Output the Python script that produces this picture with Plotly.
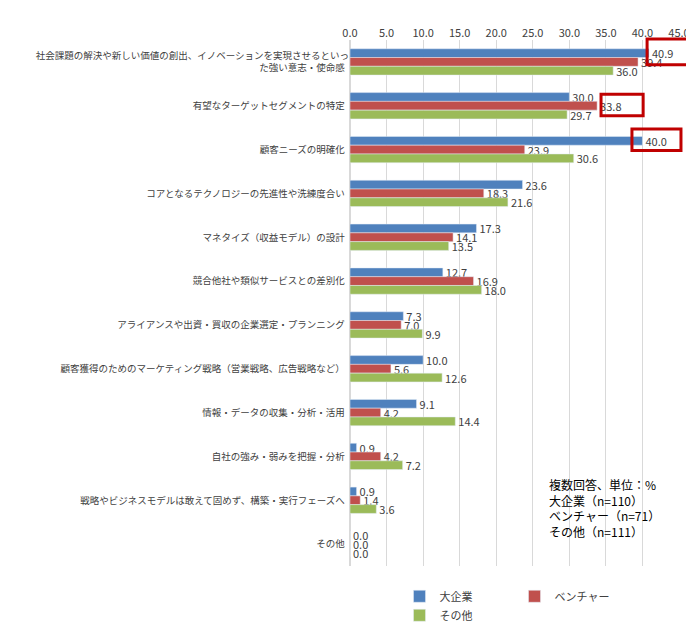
import plotly.graph_objects as go

categories = [
    "社会課題の解決や新しい価値の創出、イノベーションを実現させるといっ<br>た強い意志・使命感",
    "有望なターゲットセグメントの特定",
    "顧客ニーズの明確化",
    "コアとなるテクノロジーの先進性や洗練度合い",
    "マネタイズ（収益モデル）の設計",
    "競合他社や類似サービスとの差別化",
    "アライアンスや出資・買収の企業選定・プランニング",
    "顧客獲得のためのマーケティング戦略（営業戦略、広告戦略など）",
    "情報・データの収集・分析・活用",
    "自社の強み・弱みを把握・分析",
    "戦略やビジネスモデルは敢えて固めず、構築・実行フェーズへ",
    "その他",
]
large = [40.9, 30.0, 40.0, 23.6, 17.3, 12.7, 7.3, 10.0, 9.1, 0.9, 0.9, 0.0]
venture = [39.4, 33.8, 23.9, 18.3, 14.1, 16.9, 7.0, 5.6, 4.2, 4.2, 1.4, 0.0]
other = [36.0, 29.7, 30.6, 21.6, 13.5, 18.0, 9.9, 12.6, 14.4, 7.2, 3.6, 0.0]
series = [("大企業", large, "#4F81BD"), ("ベンチャー", venture, "#C0504D"), ("その他", other, "#9BBB59")]
ticks = [0, 5, 10, 15, 20, 25, 30, 35, 40, 45]

fig = go.Figure()
for name, vals, col in series:
    fig.add_trace(go.Bar(
        y=categories, x=vals, name=name, orientation="h", marker_color=col,
        text=[f"{v:.1f}" for v in vals], textposition="outside", cliponaxis=False,
        constraintext="none", textfont=dict(size=11, color="#404040"),
    ))

fig.update_layout(
    width=694, height=634, barmode="group", bargap=0.4, bargroupgap=0,
    margin=dict(l=342, r=23, t=32, b=46),
    paper_bgcolor="white", plot_bgcolor="white",
    font=dict(family="Noto Sans CJK JP", size=10, color="#404040"),
    legend=dict(orientation="h", x=0.5, xanchor="center", y=-0.03, yanchor="top",
                font=dict(size=11), traceorder="normal", entrywidth=70, itemwidth=30),
    xaxis=dict(range=[0, 45], tickvals=ticks, ticktext=[f"{t:.1f}" for t in ticks],
               side="top", showgrid=True, gridcolor="#D9D9D9", zeroline=True,
               zerolinecolor="#D9D9D9", tickfont=dict(size=11)),
    yaxis=dict(autorange="reversed", ticksuffix="  ", tickfont=dict(size=9.5)),
)
fig.add_annotation(xref="paper", yref="paper", x=0.60, y=0.175, xanchor="left", yanchor="top",
                   align="left", showarrow=False,
                   text="複数回答、単位：%<br>大企業（n=110）<br>ベンチャー（n=71）<br>その他（n=111）",
                   font=dict(size=12, color="#000000"))
for x0, x1, y0, y1 in [(0.903, 1.036, 0.953, 1.002), (0.763, 0.891, 0.856, 0.897), (0.857, 1.006, 0.790, 0.831)]:
    fig.add_shape(type="rect", xref="paper", yref="paper", x0=x0, x1=x1, y0=y0, y1=y1,
                  line=dict(color="#C00000", width=3))
fig.write_html("out.html")
